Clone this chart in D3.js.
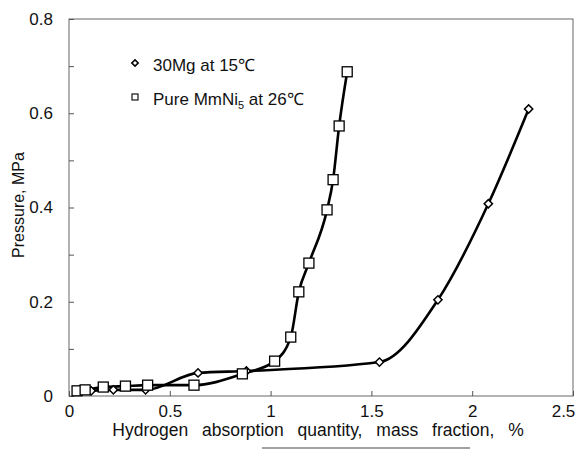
<!DOCTYPE html>
<html>
<head>
<meta charset="utf-8">
<script src="https://cdn.jsdelivr.net/npm/d3@7"></script>
<style>
  body { margin: 0; background: #fff; }
  svg { display: block; font-family: "Liberation Sans", Arial, sans-serif; }
</style>
</head>
<body>
<svg id="drawing_region"></svg>
<script>
// 30Mg at 15°C (diamonds)
const mgX = [0.11, 0.22, 0.38, 0.64, 0.88, 1.54, 1.83, 2.08, 2.28];
const mgY = [0.011, 0.013, 0.013, 0.049, 0.053, 0.072, 0.204, 0.408, 0.609];
// Pure MmNi5 at 26°C (squares)
const mmX = [0.04, 0.08, 0.17, 0.28, 0.39, 0.62, 0.86, 1.02, 1.10, 1.14, 1.19, 1.28, 1.31, 1.34, 1.38];
const mmY = [0.011, 0.013, 0.019, 0.021, 0.023, 0.023, 0.047, 0.074, 0.125, 0.221, 0.282, 0.395, 0.459, 0.573, 0.688];

const xTicks = [0, 0.5, 1, 1.5, 2, 2.5];
const xTickLabels = ["0", "0.5", "1", "1.5", "2", "2.5"];
const yTicks = [0, 0.1, 0.2, 0.3, 0.4, 0.5, 0.6, 0.7, 0.8];
const yTickLabels = ["0", "", "0.2", "", "0.4", "", "0.6", "", "0.8"];

const config = {
    width: 582,
    height: 455,
    margin: {top: 19, right: 9, bottom: 59, left: 69}
};

const svg = d3.select('#drawing_region')
    .attr('width', config.width)
    .attr('height', config.height);

const inner_width = config.width - config.margin.left - config.margin.right;
const inner_height = config.height - config.margin.top - config.margin.bottom;

const chart = svg.append('g')
    .attr('transform', `translate(${config.margin.left}, ${config.margin.top})`);

const xscale = d3.scaleLinear().domain([0, 2.5]).range([0, inner_width]);
const yscale = d3.scaleLinear().domain([0, 0.8]).range([inner_height, 0]);

// frame
chart.append('rect')
    .attr('width', inner_width)
    .attr('height', inner_height)
    .attr('fill', 'none')
    .attr('stroke', '#666')
    .attr('stroke-width', 1);

const xaxis = d3.axisBottom(xscale)
    .tickValues(xTicks)
    .tickFormat((d, i) => xTickLabels[i])
    .tickSize(-5)
    .tickPadding(9);

const yaxis = d3.axisLeft(yscale)
    .tickValues(yTicks)
    .tickFormat((d, i) => yTickLabels[i])
    .tickSize(-5)
    .tickPadding(16);

const xg = chart.append('g')
    .attr('transform', `translate(0, ${inner_height})`)
    .call(xaxis);
const yg = chart.append('g').call(yaxis);

[xg, yg].forEach(g => {
    g.select('.domain').remove();
    g.selectAll('line').attr('stroke', '#555');
    g.selectAll('text').attr('font-size', 17).attr('fill', '#111')
        .attr('font-family', '"Liberation Sans", Arial, sans-serif');
});
// last x label sits inside the frame's right edge
xg.selectAll('.tick').filter(d => d === 2.5).select('text').attr('dx', -10);

// axis titles
svg.append('text')
    .attr('x', 318)
    .attr('y', 436)
    .attr('text-anchor', 'middle')
    .attr('font-size', 17.5)
    .attr('word-spacing', 9)
    .attr('fill', '#111')
    .text('Hydrogen absorption quantity, mass fraction, %');

svg.append('text')
    .attr('transform', 'translate(24, 205) rotate(-90)')
    .attr('text-anchor', 'middle')
    .attr('font-size', 16)
    .attr('fill', '#111')
    .text('Pressure, MPa');

// scan edge under the title
svg.append('line')
    .attr('x1', 262).attr('x2', 470)
    .attr('y1', 448).attr('y2', 448)
    .attr('stroke', '#444')
    .attr('stroke-width', 1.2);

// curves
const line = d3.line()
    .x(d => xscale(d[0]))
    .y(d => yscale(d[1]))
    .curve(d3.curveMonotoneX);

const mgData = mgX.map((x, i) => [x, mgY[i]]);
const mmData = mmX.map((x, i) => [x, mmY[i]]);

chart.append('path')
    .datum(mgData)
    .attr('d', line)
    .attr('fill', 'none')
    .attr('stroke', '#000')
    .attr('stroke-width', 2.6);

chart.append('path')
    .datum(mmData)
    .attr('d', line)
    .attr('fill', 'none')
    .attr('stroke', '#000')
    .attr('stroke-width', 2.6);

const diamond = d3.symbol().type(d3.symbolSquare).size(34);

chart.selectAll('.mg')
    .data(mgData)
    .join('path')
    .attr('class', 'mg')
    .attr('d', diamond)
    .attr('transform', d => `translate(${xscale(d[0])}, ${yscale(d[1])}) rotate(45)`)
    .attr('fill', '#fff')
    .attr('stroke', '#000')
    .attr('stroke-width', 1.5);

chart.selectAll('.mm')
    .data(mmData)
    .join('rect')
    .attr('class', 'mm')
    .attr('x', d => xscale(d[0]) - 5)
    .attr('y', d => yscale(d[1]) - 5)
    .attr('width', 10)
    .attr('height', 10)
    .attr('fill', '#fff')
    .attr('stroke', '#000')
    .attr('stroke-width', 1.3);

// legend
const legend = svg.append('g');
legend.append('path')
    .attr('d', d3.symbol().type(d3.symbolSquare).size(20))
    .attr('transform', 'translate(135, 63) rotate(45)')
    .attr('fill', '#fff')
    .attr('stroke', '#000')
    .attr('stroke-width', 1.6);
legend.append('rect')
    .attr('x', 132).attr('y', 94)
    .attr('width', 6).attr('height', 6)
    .attr('fill', '#fff')
    .attr('stroke', '#000')
    .attr('stroke-width', 1.1);

legend.append('text')
    .attr('x', 153).attr('y', 71)
    .attr('font-size', 17)
    .attr('fill', '#111')
    .text('30Mg at 15℃');

const t2 = legend.append('text')
    .attr('x', 153).attr('y', 105)
    .attr('font-size', 17)
    .attr('fill', '#111');
t2.append('tspan').text('Pure MmNi');
t2.append('tspan').attr('font-size', 11).attr('dy', 4).text('5');
t2.append('tspan').attr('dy', -4).text(' at 26℃');
</script>
</body>
</html>
